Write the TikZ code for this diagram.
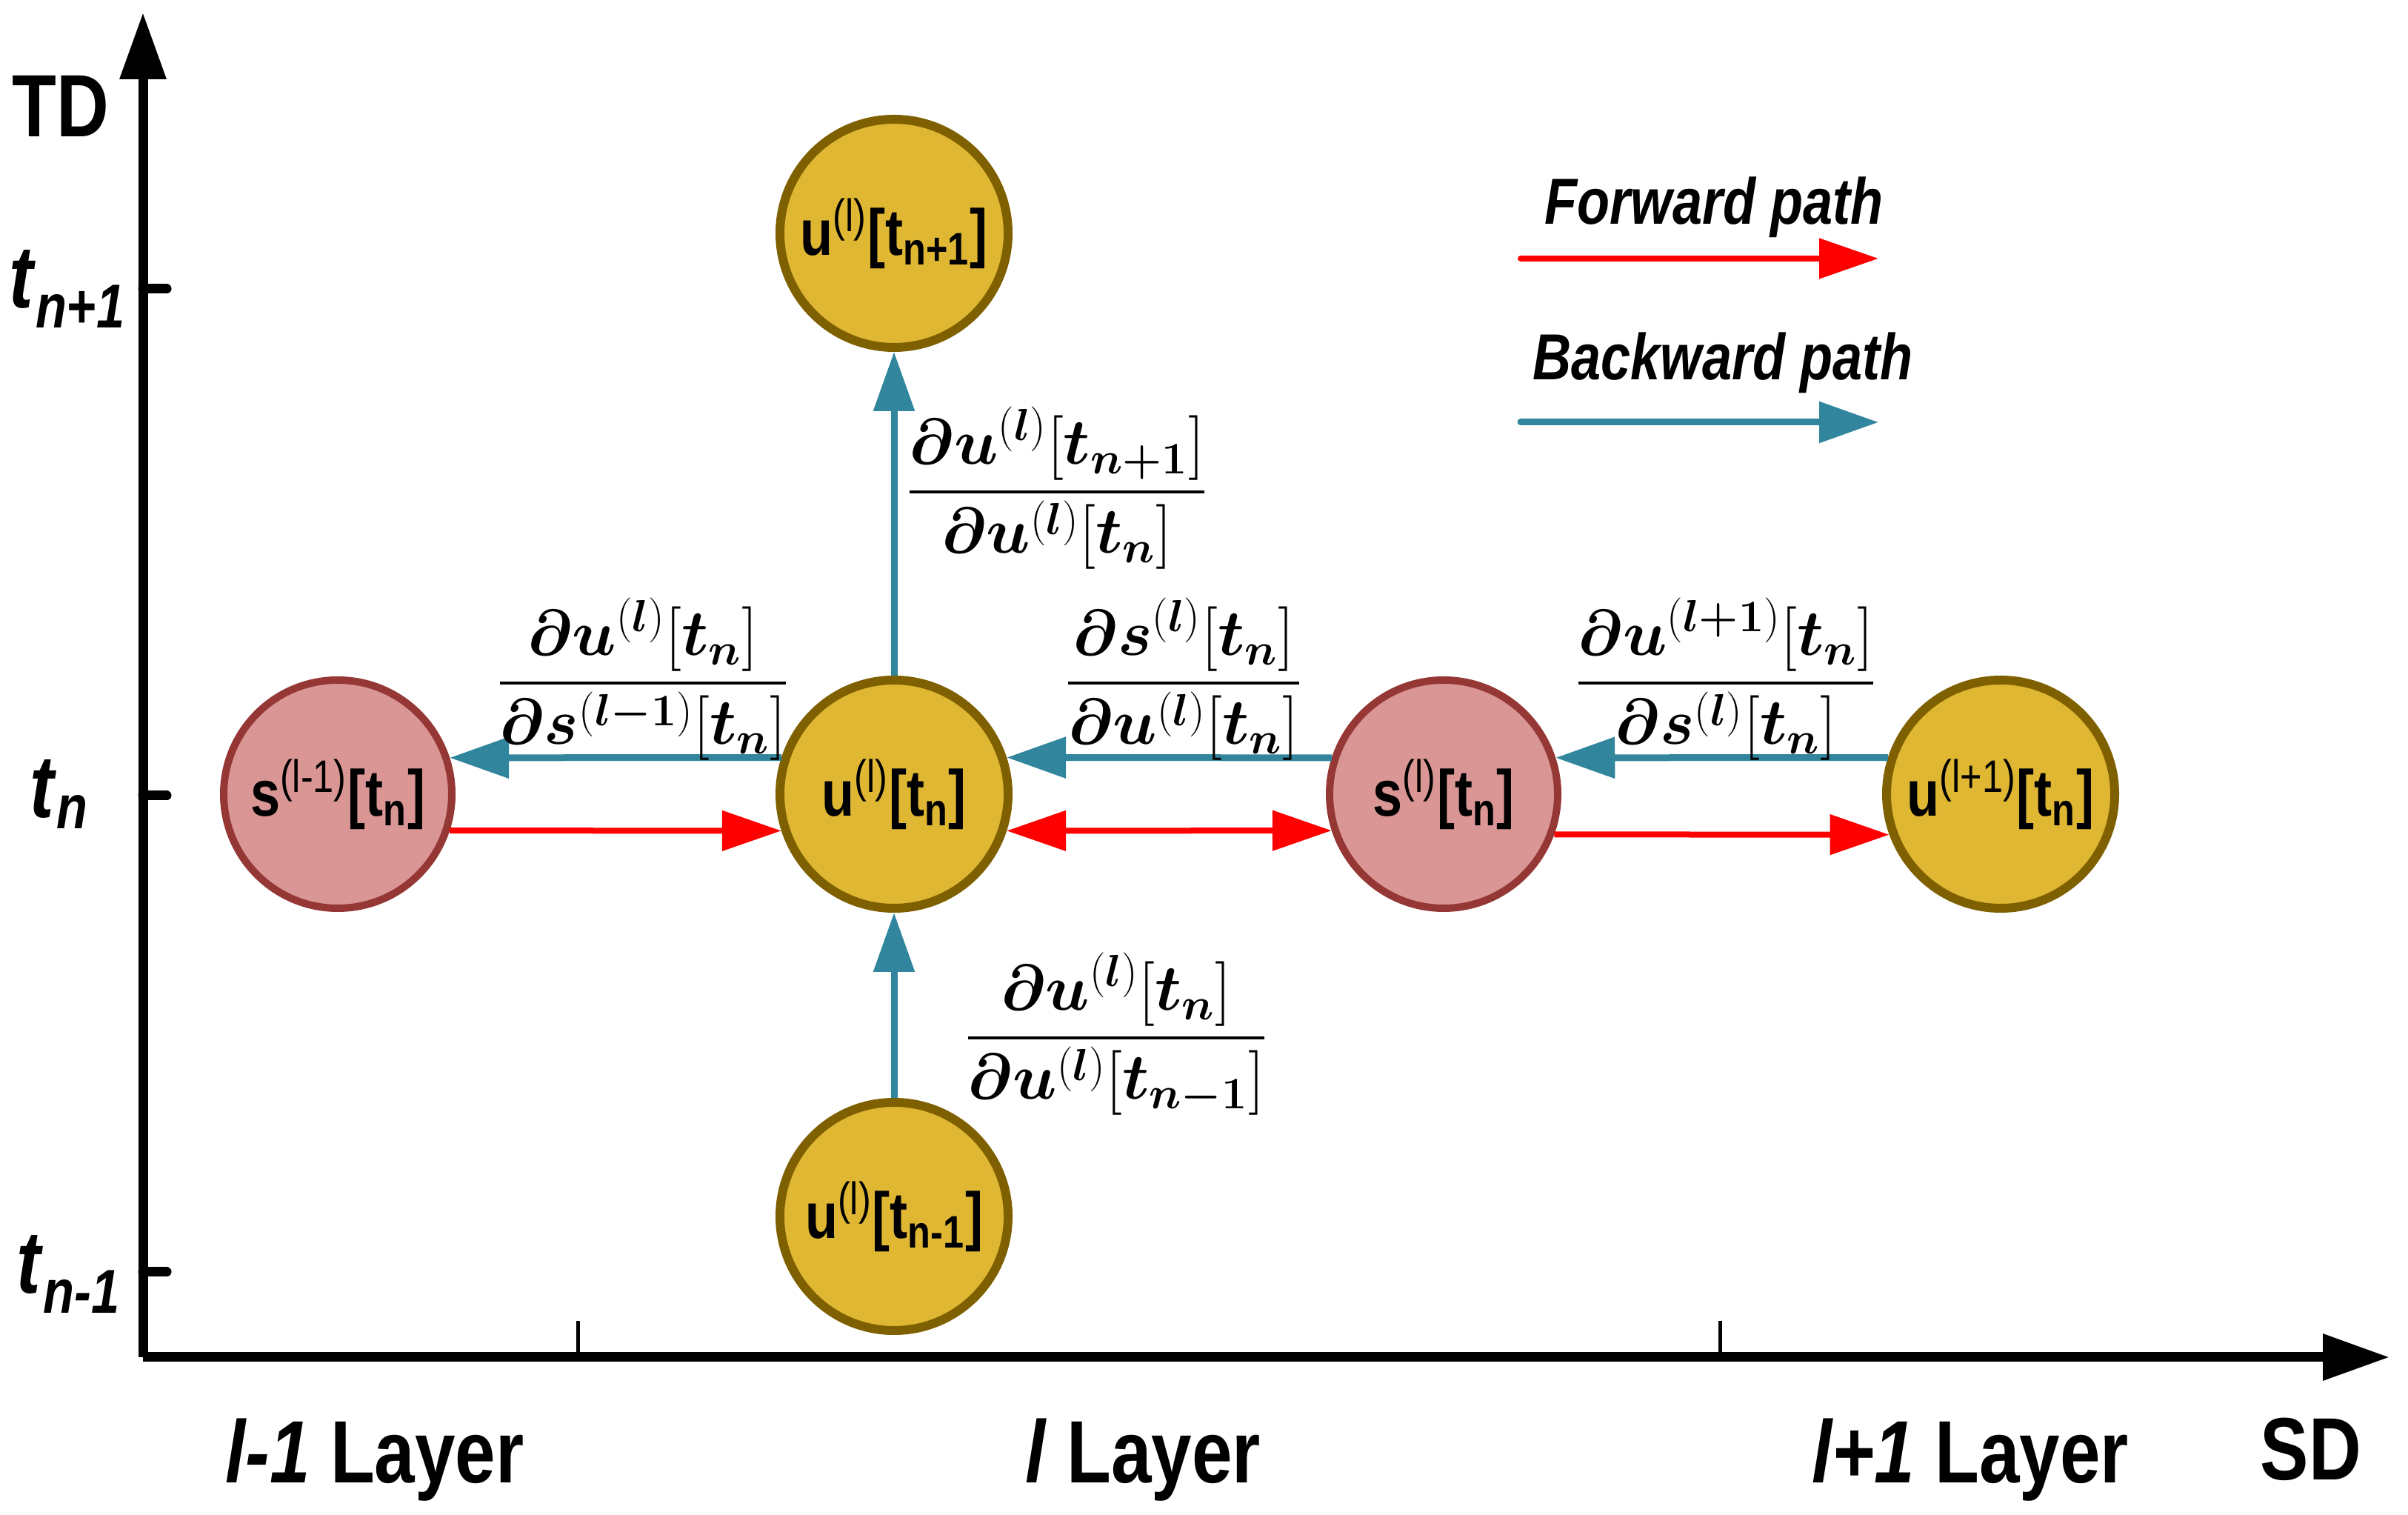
\documentclass[tikz,border=0pt]{standalone}
\usepackage[no-math]{fontspec}
\setmainfont{Liberation Sans}[FakeStretch=0.82]
\usepackage{amsmath,bm}
\usetikzlibrary{arrows.meta}

\definecolor{goldfill}{RGB}{224,183,51}
\definecolor{golddraw}{RGB}{127,96,0}
\definecolor{pinkfill}{RGB}{217,150,148}
\definecolor{pinkdraw}{RGB}{149,55,53}
\definecolor{backteal}{RGB}{49,133,156}

\newcommand\lblbig{\fontsize{34}{40}\selectfont\bfseries}
\newcommand\lblmid{\fontsize{25}{30}\selectfont\bfseries}
\newcommand\gradfrac[2]{$\displaystyle\frac{#1}{#2}$}

\tikzset{
	unode/.style={circle, minimum size=3.08cm, inner sep=0pt, line width=0.12cm,
		draw=golddraw, fill=goldfill, font=\lblmid},
	snode/.style={unode, line width=0.1cm, draw=pinkdraw, fill=pinkfill},
	axis/.style={line width=0.13cm, -{Triangle[length=0.9cm,width=0.6cm]}},
	fwd/.style={red, line width=0.08cm, -{Triangle[length=0.8cm,width=0.53cm]}},
	bwd/.style={backteal, line width=0.09cm, -{Triangle[length=0.8cm,width=0.54cm]}},
	grad/.style={font=\fontsize{23}{27}\selectfont, inner sep=0pt},
}

\begin{document}
\begin{tikzpicture}

	\useasboundingbox (0,0) rectangle (32.51,20.44);

	\def\ox{1.93}
	\def\oy{2.12}

	\def\xl{4.56}
	\def\xm{12.07}
	\def\xs{19.49}
	\def\xr{27.01}

	\def\yup{17.29}
	\def\yn{9.72}
	\def\ydn{4.02}

	% axes
	\coordinate (o) at (\ox,\oy);
	\coordinate (tdtip) at (\ox,20.27);
	\coordinate (sdtip) at (32.26,\oy);
	\draw[axis] (o) -- (tdtip);
	\draw[axis] (o) -- (sdtip);

	\draw[line width=0.13cm, line cap=round] (\ox,16.54) -- (2.25,16.54);
	\draw[line width=0.13cm, line cap=round] (\ox,9.70) -- (2.25,9.70);
	\draw[line width=0.13cm, line cap=round] (\ox,3.27) -- (2.25,3.27);
	\draw[line width=0.05cm] (7.80,\oy) -- (7.80,2.61);
	\draw[line width=0.05cm] (23.22,\oy) -- (23.22,2.61);

	\node[font=\lblbig, anchor=base] (td) at (0.82,18.59) {TD};
	\node[font=\lblbig, anchor=base] (sd) at (31.20,0.47) {SD};
	\node[font=\lblbig] (tup) at (0.91,16.54) {\textit{t}\textsubscript{\textit{n+1}}};
	\node[font=\lblbig] (tn) at (0.80,9.72) {\textit{t}\textsubscript{\textit{n}}};
	\node[font=\lblbig] (tdn) at (0.93,3.24) {\textit{t}\textsubscript{\textit{n-1}}};

	\node[font=\lblbig, anchor=base] (lprev) at (5.06,0.42) {\textit{l-1} Layer};
	\node[font=\lblbig, anchor=base] (lcur) at (15.43,0.42) {\textit{l} Layer};
	\node[font=\lblbig, anchor=base] (lnext) at (26.60,0.42) {\textit{l+1} Layer};

	% neurons
	\node[unode] (u_up) at (\xm,\yup) {u\textsuperscript{\mdseries(l)}[t\textsubscript{n+1}]};
	\node[snode] (s_prev) at (\xl,\yn) {s\textsuperscript{\mdseries(l-1)}[t\textsubscript{n}]};
	\node[unode] (u_mid) at (\xm,\yn) {u\textsuperscript{\mdseries(l)}[t\textsubscript{n}]};
	\node[snode] (s_cur) at (\xs,\yn) {s\textsuperscript{\mdseries(l)}[t\textsubscript{n}]};
	\node[unode] (u_next) at (\xr,\yn) {u\textsuperscript{\mdseries(l+1)}[t\textsubscript{n}]};
	\node[unode] (u_dn) at (\xm,\ydn) {u\textsuperscript{\mdseries(l)}[t\textsubscript{n-1}]};

	% forward path
	\draw[fwd] (s_prev.-18) -- (u_mid.198);
	\draw[fwd, {Triangle[length=0.8cm,width=0.53cm]}-{Triangle[length=0.8cm,width=0.53cm]}] (u_mid.-18) -- (s_cur.198);
	\draw[fwd] (s_cur.-20.5) -- (u_next.200.5);

	% backward path
	\draw[bwd] (u_mid.162) -- (s_prev.18);
	\draw[bwd] (s_cur.162) -- (u_mid.18);
	\draw[bwd] (u_next.162) -- (s_cur.18);
	\draw[bwd] (u_mid.north) -- (u_up.south);
	\draw[bwd] (u_dn.north) -- (u_mid.south);

	\node[grad] (d_up) at (14.27,13.85) {\gradfrac{\bm{\partial u}^{(\bm{l})}[\bm{t}_{\bm{n+1}}]}{\bm{\partial u}^{(\bm{l})}[\bm{t}_{\bm{n}}]}};
	\node[grad] (d_left) at (8.68,11.27) {\gradfrac{\bm{\partial u}^{(\bm{l})}[\bm{t}_{\bm{n}}]}{\bm{\partial s}^{(\bm{l-1})}[\bm{t}_{\bm{n}}]}};
	\node[grad] (d_mid) at (15.98,11.27) {\gradfrac{\bm{\partial s}^{(\bm{l})}[\bm{t}_{\bm{n}}]}{\bm{\partial u}^{(\bm{l})}[\bm{t}_{\bm{n}}]}};
	\node[grad] (d_right) at (23.30,11.27) {\gradfrac{\bm{\partial u}^{(\bm{l+1})}[\bm{t}_{\bm{n}}]}{\bm{\partial s}^{(\bm{l})}[\bm{t}_{\bm{n}}]}};
	\node[grad] (d_dn) at (15.07,6.48) {\gradfrac{\bm{\partial u}^{(\bm{l})}[\bm{t}_{\bm{n}}]}{\bm{\partial u}^{(\bm{l})}[\bm{t}_{\bm{n-1}}]}};

	% legend
	\node[font=\lblmid\itshape, anchor=base] (fwdtxt) at (23.14,17.41) {Forward path};
	\node[font=\lblmid\itshape, anchor=base] (bwdtxt) at (23.26,15.31) {Backward path};
	\coordinate (fwd_a) at (20.53,16.95);
	\coordinate (fwd_b) at (25.36,16.95);
	\coordinate (bwd_a) at (20.53,14.74);
	\coordinate (bwd_b) at (25.36,14.74);
	\draw[fwd, line cap=round] (fwd_a) -- (fwd_b);
	\draw[bwd, line cap=round] (bwd_a) -- (bwd_b);

\end{tikzpicture}
\end{document}
